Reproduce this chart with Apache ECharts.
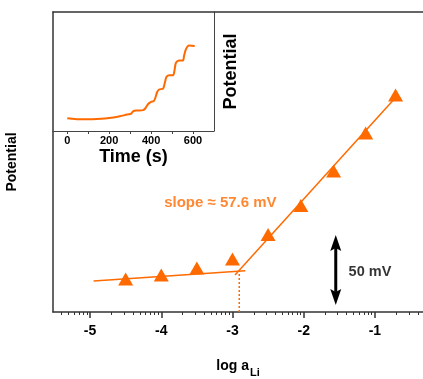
<!DOCTYPE html>
<html><head><meta charset="utf-8">
<script src="https://cdn.jsdelivr.net/npm/echarts@6/dist/echarts.min.js"></script>
<style>html,body{margin:0;padding:0;background:#fff}#c{width:423px;height:379px}</style>
</head><body><div id="c"></div>
<script>
// ---- data ----
const logActivity = [-4.5, -4, -3.5, -3, -2.5, -2.04, -1.58, -1.13, -0.71];
const potentialMV = [24.8, 27.8, 33.0, 39.8, 58.1, 79.9, 105.8, 134.3, 162.8];
const fitLowX = [-4.95, -2.82];
const fitLowY = [23.3, 31.0];
const fitHighX = [-2.965, -0.70];
const fitHighY = [27.8, 161.5];
const breakX = -2.905;
const breakY = 30.6;
const majorTicks = [-5, -4, -3, -2, -1];
const insetTime = [0, 20, 45, 100, 140, 180, 220, 251, 285, 300, 306, 314, 330, 362, 372, 386, 400, 412, 420, 429, 438, 457, 464, 473, 486, 505, 512, 518, 533, 552, 557, 564, 572, 580, 608];
const insetPotential = [12.7, 12.2, 11.8, 11.8, 12.0, 12.5, 13.5, 14.7, 16.4, 17.0, 17.5, 19.7, 20.4, 20.9, 22.5, 27.0, 29.2, 29.8, 33.0, 39.0, 41.5, 42.4, 47.0, 54.0, 55.7, 55.8, 61.0, 68.0, 70.4, 70.5, 75.0, 80.7, 84.0, 85.4, 85.0];
const insetTickLabels = [0, 200, 400, 600];
const insetTicks = [0, 100, 200, 300, 400, 500, 600];
const slopeText = 'slope \u2248 57.6 mV';
const slopeTextPos = [-3.17, 81.5];
const scaleBarText = '50 mV';
const scaleBarTextPos = [-1.07, 30.2];
const scaleBar = [-1.55, 5.3, 57.8]; // x, low tip, high tip (mV)

// ---- derived ----
const X_MIN = -5.52, X_MAX = -0.325;
const minorTicks = [];
for (let d = -6; d <= -1; d++) {
  for (let k = 2; k <= 9; k++) {
    const v = d + Math.log10(k);
    if (v > X_MIN && v < X_MAX) minorTicks.push(v);
  }
}
const ORANGE = '#ff6a00';
const FONT = '"Liberation Sans", Arial, sans-serif';
const AX = '#333';

const chart = echarts.init(document.getElementById('c'), null, {renderer: 'canvas'});
chart.setOption({
  animation: false,
  backgroundColor: '#fff',
  grid: [
    {left: 53, top: 12, width: 370, height: 300, outerBoundsMode: 'none', containLabel: false},
    {left: 53, top: 12, width: 161, height: 119, outerBoundsMode: 'none', containLabel: false}
  ],
  xAxis: [
    {
      gridIndex: 0, type: 'value', position: 'bottom', min: X_MIN, max: X_MAX,
      axisLine: {show: true, onZero: false, lineStyle: {color: AX, width: 1.5}},
      axisTick: {show: true, customValues: majorTicks, length: 6, lineStyle: {color: AX, width: 1.5}},
      axisLabel: {customValues: majorTicks, color: '#000', fontSize: 14, fontWeight: 'bold', fontFamily: FONT, margin: 12},
      splitLine: {show: false},
      name: '{a|log a}{s|Li}', nameLocation: 'middle', nameGap: 47,
      nameTextStyle: {
        rich: {
          a: {fontSize: 14, fontWeight: 'bold', fontFamily: FONT, color: '#000', lineHeight: 16, verticalAlign: 'top'},
          s: {fontSize: 11, fontWeight: 'bold', fontFamily: FONT, color: '#000', lineHeight: 16, padding: [8, 0, 0, 1], verticalAlign: 'top'}
        }
      }
    },
    {
      gridIndex: 0, type: 'value', position: 'bottom', min: X_MIN, max: X_MAX,
      axisLine: {show: false, onZero: false},
      axisTick: {show: true, customValues: minorTicks, length: 3, lineStyle: {color: AX, width: 1}},
      axisLabel: {show: false}, splitLine: {show: false}
    },
    {
      gridIndex: 0, type: 'value', position: 'top', min: X_MIN, max: X_MAX,
      axisLine: {show: true, onZero: false, lineStyle: {color: AX, width: 1.5}},
      axisTick: {show: false}, axisLabel: {show: false}, splitLine: {show: false}
    },
    {
      gridIndex: 1, type: 'value', position: 'bottom', min: -68, max: 700,
      axisLine: {show: true, onZero: false, lineStyle: {color: '#444', width: 1}},
      axisTick: {show: true, customValues: insetTicks, length: 3, lineStyle: {color: '#444', width: 1}},
      axisLabel: {customValues: insetTickLabels, color: '#000', fontSize: 11, fontWeight: 'bold', fontFamily: FONT, margin: 4},
      splitLine: {show: false},
      name: 'Time (s)', nameLocation: 'middle', nameGap: 17,
      nameTextStyle: {fontSize: 18, fontWeight: 'bold', fontFamily: FONT, color: '#000'}
    }
  ],
  yAxis: [
    {
      gridIndex: 0, type: 'value', position: 'left', min: 0, max: 225,
      axisLine: {show: true, onZero: false, lineStyle: {color: AX, width: 1.5}},
      axisTick: {show: false}, axisLabel: {show: false}, splitLine: {show: false},
      name: 'Potential', nameLocation: 'middle', nameGap: 34, nameRotate: 90,
      nameTextStyle: {fontSize: 14, fontWeight: 'bold', fontFamily: FONT, color: '#000'}
    },
    {
      gridIndex: 1, type: 'value', position: 'right', min: 0, max: 119,
      axisLine: {show: true, onZero: false, lineStyle: {color: '#444', width: 1}},
      axisTick: {show: false}, axisLabel: {show: false}, splitLine: {show: false},
      name: 'Potential', nameLocation: 'middle', nameGap: 8, nameRotate: 90,
      nameTextStyle: {fontSize: 18, fontWeight: 'bold', fontFamily: FONT, color: '#000'}
    }
  ],
  series: [
    {
      type: 'line', xAxisIndex: 0, yAxisIndex: 0, symbol: 'none', silent: true,
      data: fitLowX.map((x, i) => [x, fitLowY[i]]),
      lineStyle: {color: ORANGE, width: 1.5}, z: 2
    },
    {
      type: 'line', xAxisIndex: 0, yAxisIndex: 0, symbol: 'none', silent: true,
      data: fitHighX.map((x, i) => [x, fitHighY[i]]),
      lineStyle: {color: ORANGE, width: 1.5}, z: 2
    },
    {
      type: 'line', xAxisIndex: 0, yAxisIndex: 0, symbol: 'none', silent: true,
      data: [[breakX, 0], [breakX, breakY]],
      lineStyle: {color: ORANGE, width: 1.5, type: [2, 2]}, z: 2
    },
    {
      type: 'scatter', xAxisIndex: 0, yAxisIndex: 0, symbol: 'triangle', symbolSize: [15, 13],
      data: logActivity.map((x, i) => [x, potentialMV[i]]),
      itemStyle: {color: ORANGE, opacity: 1}, z: 5
    },
    {
      type: 'custom', xAxisIndex: 0, yAxisIndex: 0, silent: true,
      data: [scaleBar],
      encode: {x: 0, y: [1, 2]},
      renderItem: function (params, api) {
        const hi = api.coord([api.value(0), api.value(2)]);
        const lo = api.coord([api.value(0), api.value(1)]);
        const hw = 5.5, hh = 16, sw = 1.5, notch = 3;
        const x = hi[0];
        return {
          type: 'group', children: [
            {type: 'rect', shape: {x: x - sw, y: hi[1] + hh - notch, width: sw * 2, height: lo[1] - hi[1] - 2 * hh + 2 * notch}, style: {fill: '#000'}},
            {type: 'polygon', shape: {points: [[x, hi[1]], [x - hw, hi[1] + hh], [x, hi[1] + hh - notch], [x + hw, hi[1] + hh]]}, style: {fill: '#000'}},
            {type: 'polygon', shape: {points: [[x, lo[1]], [x - hw, lo[1] - hh], [x, lo[1] - hh + notch], [x + hw, lo[1] - hh]]}, style: {fill: '#000'}}
          ]
        };
      }
    },
    {
      type: 'scatter', xAxisIndex: 0, yAxisIndex: 0, symbolSize: 0, silent: true,
      data: [slopeTextPos],
      label: {show: true, position: 'inside', formatter: slopeText, color: ORANGE, fontSize: 15, fontWeight: 'bold', fontFamily: FONT}
    },
    {
      type: 'scatter', xAxisIndex: 0, yAxisIndex: 0, symbolSize: 0, silent: true,
      data: [scaleBarTextPos],
      label: {show: true, position: 'inside', formatter: scaleBarText, color: '#000', fontSize: 14.5, fontWeight: 'bold', fontFamily: FONT}
    },
    {
      type: 'line', xAxisIndex: 3, yAxisIndex: 1, symbol: 'none', smooth: 0.25, silent: true,
      data: insetTime.map((t, i) => [t, insetPotential[i]]),
      lineStyle: {color: ORANGE, width: 2}
    }
  ]
});
</script>
</body></html>
